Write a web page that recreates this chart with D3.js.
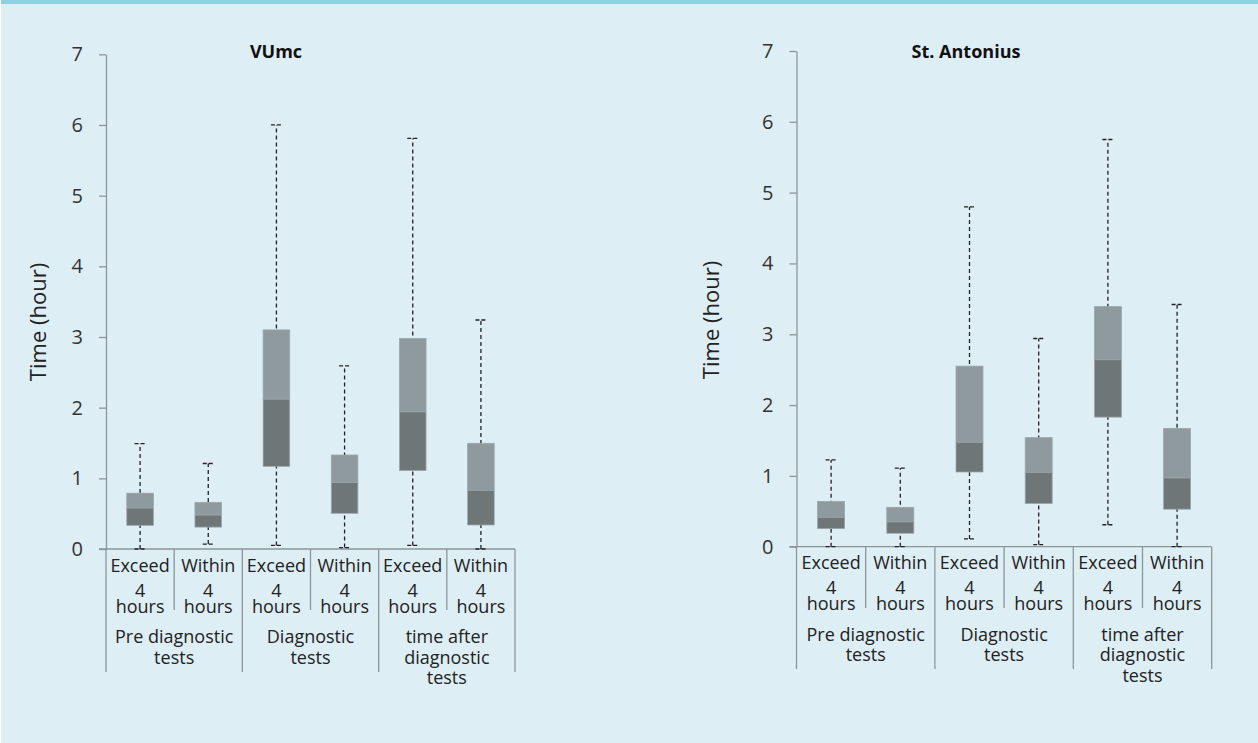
<!DOCTYPE html>
<html>
<head>
<meta charset="utf-8">
<script src="https://cdn.jsdelivr.net/npm/d3@7"></script>
<style>
  html, body { margin: 0; padding: 0; background: #ffffff; }
  svg { display: block; }
</style>
</head>
<body>
<svg id="chart" width="1258" height="743"></svg>
<script>
// ---------- DATA ----------
const categories = ["Exceed 4 hours", "Within 4 hours", "Exceed 4 hours", "Within 4 hours", "Exceed 4 hours", "Within 4 hours"];
const catLines = [["Exceed", "4", "hours"], ["Within", "4", "hours"], ["Exceed", "4", "hours"], ["Within", "4", "hours"], ["Exceed", "4", "hours"], ["Within", "4", "hours"]];
const groups = [["Pre diagnostic", "tests"], ["Diagnostic", "tests"], ["time after", "diagnostic", "tests"]];
const yTicks = [0, 1, 2, 3, 4, 5, 6, 7];

const titles = ["VUmc", "St. Antonius"];
const yAxisTitle = "Time (hour)";

// VUmc
const vuMin    = [0.00, 0.07, 0.05, 0.02, 0.05, 0.00];
const vuQ1     = [0.335, 0.31, 1.17, 0.505, 1.11, 0.34];
const vuMedian = [0.58, 0.48, 2.12, 0.94, 1.94, 0.83];
const vuQ3     = [0.79, 0.66, 3.10, 1.33, 2.98, 1.495];
const vuMax    = [1.49, 1.21, 6.00, 2.59, 5.81, 3.24];

// St. Antonius
const saMin    = [0.00, 0.00, 0.11, 0.03, 0.31, 0.00];
const saQ1     = [0.255, 0.19, 1.055, 0.61, 1.83, 0.53];
const saMedian = [0.415, 0.35, 1.475, 1.05, 2.64, 0.97];
const saQ3     = [0.64, 0.556, 2.55, 1.54, 3.39, 1.67];
const saMax    = [1.225, 1.11, 4.80, 2.94, 5.75, 3.42];

// ---------- LAYOUT ----------
const svg = d3.select("#chart");
const W = 1258, H = 743;

svg.append("rect").attr("x", 1).attr("y", 0).attr("width", W - 1).attr("height", H).attr("fill", "#deeef5");
svg.append("rect").attr("x", 1).attr("y", 0).attr("width", W - 1).attr("height", 4).attr("fill", "#8fd0e3");

const panels = [
  { title: titles[0], titleX: 276, titleY: 58, x0: 106, x1: 515, y0: 549, y7: 54.3,
    labelX: 46, labelY: 322, innerDivEnd: 610, groupDivEnd: 672,
    min: vuMin, q1: vuQ1, med: vuMedian, q3: vuQ3, max: vuMax },
  { title: titles[1], titleX: 966, titleY: 57.5, x0: 796.5, x1: 1211.7, y0: 546.7, y7: 51,
    labelX: 719, labelY: 320, innerDivEnd: 608, groupDivEnd: 669,
    min: saMin, q1: saQ1, med: saMedian, q3: saQ3, max: saMax }
];

const axisColor = "#8c9699";
const textColor = "#222222";
const fontMain = "'Open Sans', 'DejaVu Sans', sans-serif";

panels.forEach(p => {
  const g = svg.append("g");
  const y = d3.scaleLinear().domain([0, 7]).range([p.y0, p.y7]);
  const x = d3.scaleBand().domain(d3.range(categories.length)).range([p.x0, p.x1]).paddingInner(0).paddingOuter(0);
  const bw = x.bandwidth();
  const boxW = bw * 0.39;

  // title
  g.append("text").attr("x", p.titleX).attr("y", p.titleY)
    .attr("text-anchor", "middle").attr("font-family", fontMain)
    .attr("font-weight", "bold").attr("font-size", 18).attr("fill", "#111")
    .text(p.title);

  // y axis title
  g.append("text")
    .attr("transform", `translate(${p.labelX},${p.labelY}) rotate(-90)`)
    .attr("text-anchor", "middle").attr("font-family", fontMain)
    .attr("font-size", 22).attr("fill", textColor)
    .text(yAxisTitle);

  // y axis
  const yAxis = d3.axisLeft(y).tickValues(yTicks).tickFormat(d3.format("d"))
    .tickSize(7).tickSizeOuter(0).tickPadding(16);
  const ya = g.append("g").attr("transform", `translate(${p.x0},0)`).call(yAxis);
  ya.select(".domain").attr("stroke", axisColor).attr("stroke-width", 1.3);
  ya.selectAll(".tick line").attr("stroke", axisColor).attr("stroke-width", 1.3);
  ya.selectAll(".tick text").attr("font-family", fontMain).attr("font-size", 20).attr("fill", "#333");

  // x axis baseline
  g.append("line").attr("x1", p.x0 - 7).attr("x2", p.x1).attr("y1", y(0)).attr("y2", y(0))
    .attr("stroke", axisColor).attr("stroke-width", 1.3);

  // category dividers
  const edges = d3.range(categories.length + 1);
  g.selectAll("line.div").data(edges).join("line")
    .attr("x1", i => i < categories.length ? x(i) : p.x1)
    .attr("x2", i => i < categories.length ? x(i) : p.x1)
    .attr("y1", y(0))
    .attr("y2", i => (i % 2 === 0) ? p.groupDivEnd : p.innerDivEnd)
    .attr("stroke", axisColor).attr("stroke-width", 1.3);

  // category labels (one text element per category, lines as tspans)
  const rowY = [p.y0 + 22.7, p.y0 + 47.5, p.y0 + 63.5];
  catLines.forEach((lines, i) => {
    const t = g.append("text").attr("text-anchor", "middle").attr("font-family", fontMain)
      .attr("font-size", 18).attr("fill", textColor);
    lines.forEach((s, j) => {
      t.append("tspan").attr("x", x(i) + bw / 2).attr("y", rowY[j]).text(s);
    });
  });

  // group labels
  const groupY = [p.y0 + 94, p.y0 + 114.5, p.y0 + 135];
  groups.forEach((lines, gi) => {
    const cx = x(gi * 2) + bw;
    const t = g.append("text").attr("text-anchor", "middle").attr("font-family", fontMain)
      .attr("font-size", 18).attr("fill", textColor);
    lines.forEach((s, j) => {
      t.append("tspan").attr("x", cx).attr("y", groupY[j]).text(s);
    });
  });

  const idx = d3.range(categories.length);
  const cxOf = i => x(i) + bw / 2;

  // whiskers
  g.selectAll("line.whisker").data(idx).join("line")
    .attr("x1", cxOf).attr("x2", cxOf)
    .attr("y1", i => y(p.min[i])).attr("y2", i => y(p.max[i]))
    .attr("stroke", "#222").attr("stroke-width", 1.3).attr("stroke-dasharray", "4,3");
  // caps
  ["min", "max"].forEach(k => {
    g.selectAll("line.cap" + k).data(idx).join("line")
      .attr("x1", i => cxOf(i) - 5.5).attr("x2", i => cxOf(i) + 5.5)
      .attr("y1", i => y(p[k][i])).attr("y2", i => y(p[k][i]))
      .attr("stroke", "#222").attr("stroke-width", 1.3).attr("stroke-dasharray", "4,2");
  });

  // upper box (median -> q3)
  g.selectAll("rect.upper").data(idx).join("rect")
    .attr("x", i => cxOf(i) - boxW / 2).attr("width", boxW)
    .attr("y", i => y(p.q3[i])).attr("height", i => y(p.med[i]) - y(p.q3[i]))
    .attr("fill", "#8f9a9e").attr("stroke", "#9aa6aa").attr("stroke-width", 0.8);
  // lower box (q1 -> median)
  g.selectAll("rect.lower").data(idx).join("rect")
    .attr("x", i => cxOf(i) - boxW / 2).attr("width", boxW)
    .attr("y", i => y(p.med[i])).attr("height", i => y(p.q1[i]) - y(p.med[i]))
    .attr("fill", "#6e7678").attr("stroke", "#9aa6aa").attr("stroke-width", 0.8);
});
</script>
</body>
</html>
